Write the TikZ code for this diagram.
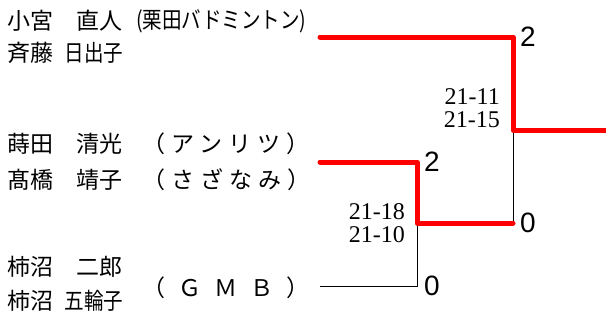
\documentclass[tikz,border=0pt]{standalone}
\usepackage{fontspec}
\setmainfont{Liberation Serif}
\newfontfamily\jpfont{Noto Sans CJK JP}
\newfontfamily\jpnarrow[FakeStretch=0.85]{Noto Sans CJK JP}
\newfontfamily\jpwide[LetterSpace=26]{Noto Sans CJK JP}
\newfontfamily\jpwider[LetterSpace=57]{Noto Sans CJK JP}
\newfontfamily\gamefont{Liberation Sans}
\usepackage{tikz}
\usetikzlibrary{positioning}

\tikzset{
  player/.style={inner sep=0pt, anchor=west, align=left, font=\jpfont\fontsize{23}{32}\selectfont},
  club/.style={inner sep=0pt, anchor=west, align=left, font=\jpwide\fontsize{23}{36}\selectfont},
  games/.style={inner sep=0pt, font=\gamefont\fontsize{28}{28}\selectfont},
  sets/.style={inner sep=0pt, align=right, font=\fontsize{24}{23}\selectfont},
  win/.style={draw=red, line width=5pt, line cap=round, line join=round},
  lose/.style={draw=black, line width=0.9pt},
}

\begin{document}
\begin{tikzpicture}[x=1pt,y=-1pt]
\useasboundingbox (0,0) rectangle (606,322);
% nodes
 \node[player] (p1) at (7,37) {小宮　直人\\斉藤\hspace{.5em}{\jpnarrow 日出子}};%
 \node[player] (p2) at (7,161.5) {蒔田　清光\\[4pt]髙橋　靖子};%
 \node[player] (p3) at (7,283.5) {柿沼　二郎\\[2pt]柿沼\hspace{.5em}{\jpnarrow 五輪子}};%
 \node[club, font=\jpnarrow\fontsize{23}{23}\selectfont] (c1) at (136,21) {(栗田バドミントン)};%
 \node[club] (c2) at (142,161.5) {（アンリツ）\\（さざなみ）};%
 \node[club, font=\jpwider\fontsize{23}{23}\selectfont] (c3) at (142,288) {（ＧＭＢ）};%
% bracket
 \coordinate (a1) at (320,37);
 \coordinate (a2) at (320,162);
 \coordinate (a3) at (320,286);
 \coordinate (r1) at (417,162);
 \coordinate (r2) at (417,286);
 \coordinate (m1) at (417,223);
 \coordinate (f1) at (513,37);
 \coordinate (f2) at (513,223);
 \coordinate (m2) at (513,130);
 \coordinate (champ) at (606,130);
% scores
 \node[games, right=7pt of f1] (g1) {2};%
 \node[games, right=7pt of r1] (g2) {2};%
 \node[games, right=7pt of f2] (g3) {0};%
 \node[games, right=7pt of r2] (g4) {0};%
 \node[sets, above left=2pt and 13pt of m2] (s1) {21-11\\21-15};%
 \node[sets, left=12pt of m1] (s2) {21-18\\21-10};%
% edges
 \draw[lose] (a3) -- (r2) -- (m1);
 \draw[lose] (f2) -- (m2);
 \draw[win] (a2) -- (r1) -- (m1) -- (f2);
 \draw[win] (a1) -- (f1) -- (m2) -- (champ);
\end{tikzpicture}
\end{document}
